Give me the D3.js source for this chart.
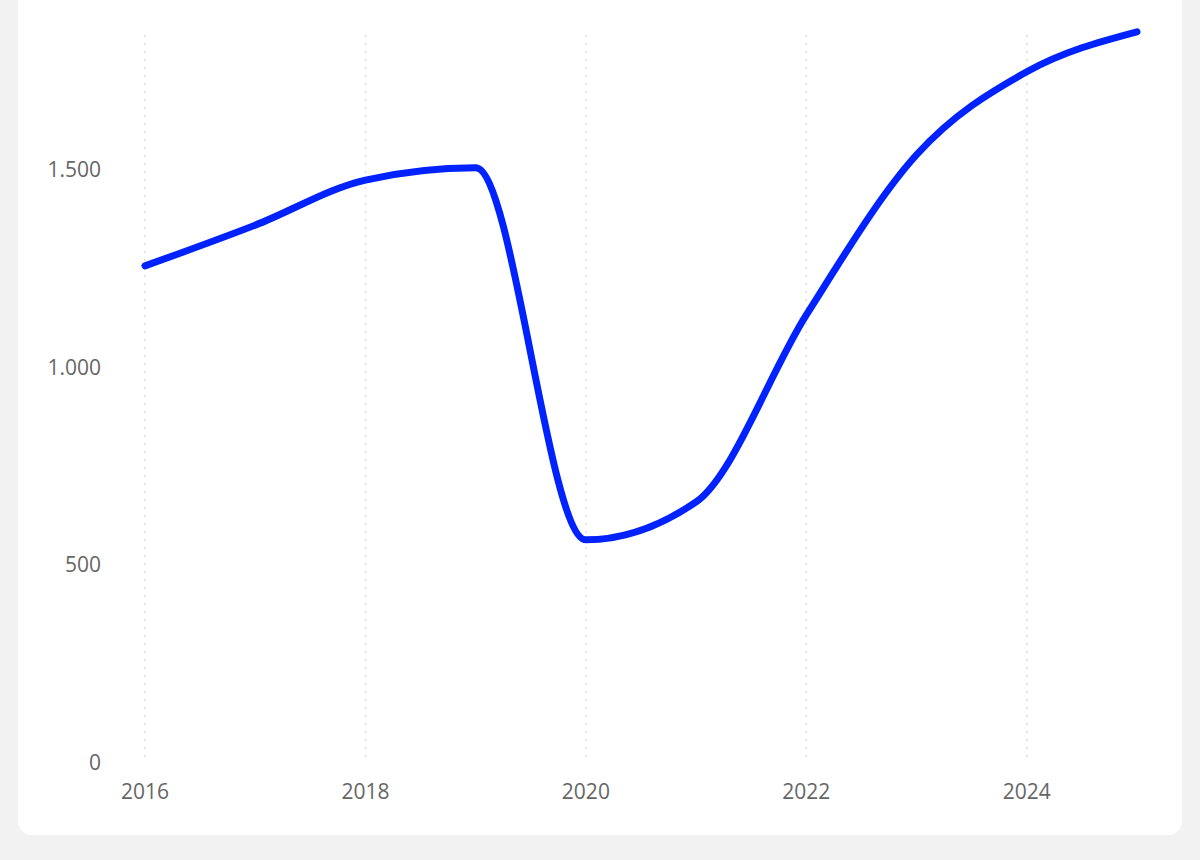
<!DOCTYPE html><html><head><meta charset="utf-8">
<script src="https://cdn.jsdelivr.net/npm/d3@7"></script>
<style>body{margin:0;background:#f2f2f2;}svg{display:block;font-family:"Open Sans",sans-serif;}</style></head><body>
<svg id="c" width="1200" height="860"></svg>
<script>
const years=[2016,2017,2018,2019,2020,2021,2022,2023,2024,2025];
const values=[1255,1358,1472,1503,562,658,1131,1536,1746,1847];
const yTicks=[0,500,1000,1500];
const xTicks=[2016,2018,2020,2022,2024];
const svg=d3.select("#c");
svg.append("rect").attr("x",18).attr("y",-20).attr("width",1164).attr("height",855).attr("rx",14).attr("fill","#fff");
const x=d3.scaleLinear().domain([2016,2025]).range([145,1137]);
const y=d3.scaleLinear().domain([0,1500]).range([762,169]);
const fmt=d3.formatLocale({decimal:",",thousands:".",grouping:[3],currency:["","€"]}).format(",");
svg.append("g").selectAll("line").data(xTicks).join("line")
 .attr("x1",d=>x(d)).attr("x2",d=>x(d)).attr("y1",35).attr("y2",762)
 .attr("stroke","#ddd").attr("stroke-width",1.5).attr("stroke-dasharray","2,6");
svg.append("g").selectAll("text").data(xTicks).join("text")
 .attr("x",d=>x(d)).attr("y",799).attr("text-anchor","middle").attr("font-size",21).attr("fill","#666").text(d=>d);
svg.append("g").selectAll("text").data(yTicks).join("text")
 .attr("x",101).attr("y",d=>y(d)+8).attr("text-anchor","end").attr("font-size",21).attr("fill","#666").text(d=>fmt(d));
svg.append("path").datum(years.map((d,i)=>[d,values[i]]))
 .attr("d",d3.line().x(d=>x(d[0])).y(d=>y(d[1])).curve(d3.curveMonotoneX))
 .attr("fill","none").attr("stroke","#0022ff").attr("stroke-width",7).attr("stroke-linecap","round").attr("stroke-linejoin","round");
</script></body></html>
